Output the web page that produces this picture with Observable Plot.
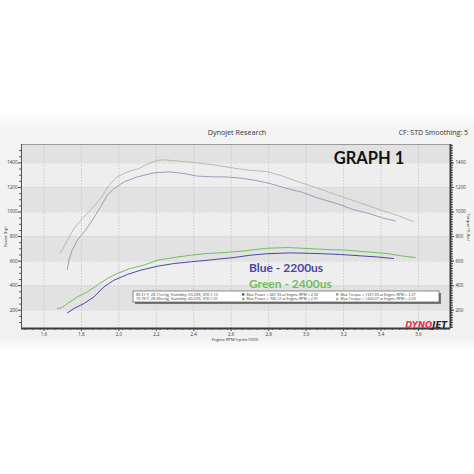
<!DOCTYPE html>
<html>
<head>
<meta charset="utf-8">
<script src="https://cdn.jsdelivr.net/npm/d3@7"></script>
<script src="https://cdn.jsdelivr.net/npm/@observablehq/plot@0.6"></script>
<style>
  html, body { margin: 0; padding: 0; background: #ffffff; }
  #chart { width: 474px; height: 474px; }
</style>
</head>
<body>
<div id="chart"></div>
<script>
// ---- data (rpm x1000, value) ----
const greenTorque = [
  [1.685,667],[1.698,690],[1.725,770],[1.76,866],[1.805,947],[1.849,1015],[1.902,1110],
  [1.947,1218],[1.991,1286],[2.045,1327],[2.107,1354],[2.16,1395],[2.205,1420],[2.235,1426],
  [2.311,1416],[2.42,1400],[2.51,1384],[2.62,1356],[2.70,1340],[2.79,1330],[2.87,1295],
  [2.98,1235],[3.06,1195],[3.166,1137],[3.25,1095],[3.344,1045],[3.42,1005],[3.49,972],[3.575,920]
];
const blueTorque = [
  [1.725,531],[1.733,607],[1.751,689],[1.778,770],[1.822,852],[1.858,933],[1.902,1042],
  [1.938,1137],[1.973,1191],[2.027,1245],[2.098,1286],[2.187,1319],[2.27,1327],[2.347,1314],
  [2.42,1292],[2.50,1287],[2.58,1285],[2.64,1278],[2.72,1260],[2.80,1235],[2.89,1195],
  [2.98,1160],[3.06,1115],[3.166,1068],[3.25,1020],[3.344,985],[3.41,950],[3.476,928]
];
const greenPower = [
  [1.671,214],[1.698,222],[1.725,254],[1.778,308],[1.831,349],[1.885,404],[1.938,458],
  [1.991,499],[2.062,540],[2.133,567],[2.205,607],[2.293,629],[2.382,648],[2.471,662],
  [2.55,668],[2.667,683],[2.79,705],[2.905,710],[3.005,703],[3.111,694],[3.218,689],
  [3.325,675],[3.431,662],[3.52,640],[3.582,629]
];
const bluePower = [
  [1.725,178],[1.76,214],[1.813,254],[1.867,308],[1.92,390],[1.973,444],[2.045,491],
  [2.116,526],[2.205,558],[2.293,580],[2.382,594],[2.471,607],[2.54,618],[2.613,629],
  [2.702,648],[2.79,660],[2.915,667],[3.058,662],[3.182,654],[3.289,643],[3.378,634],[3.467,621]
];
const xTicks = [1.6,1.8,2.0,2.2,2.4,2.6,2.8,3.0,3.2,3.4,3.6];
const yTicks = [200,400,600,800,1000,1200,1400];
const bands = [[200,400],[600,800],[1000,1200],[1400,1600]];
const xDomain = [1.48, 3.771];
const yDomain = [51, 1550];
const envLines = [
  "89.21°F, 28.11in-hg, Humidity: 50.20%, STD:1.10",
  "79.79°F, 28.39in-hg, Humidity: 40.32%, STD:1.07"
];
const powerLines = [
  "Max Power = 667.33 at Engine RPM = 2.92",
  "Max Power = 706.12 at Engine RPM = 2.91"
];
const torqueLines = [
  "Max Torque = 1327.30 at Engine RPM = 2.27",
  "Max Torque = 1426.07 at Engine RPM = 2.23"
];
const runNames = ["Blue - 2200us", "Green - 2400us"];

const colors = {
  greenTorque: "#adb8a6", blueTorque: "#9393b8",
  greenPower: "#6cbf5e", bluePower: "#4848a6"
};

const minorY = d3.range(100, 1550, 50).filter(v => v % 200 !== 0);
const minorX = d3.range(1.50, 3.77, 0.04).map(v => +v.toFixed(2));

const fs = "4.5px";
const plot = Plot.plot({
  width: 474,
  height: 474,
  marginLeft: 21,
  marginRight: 24,
  marginTop: 144,
  marginBottom: 146,
  style: { background: "transparent", fontFamily: "Open Sans, DejaVu Sans, sans-serif", color: "#333" },
  x: { domain: xDomain, axis: null },
  y: { domain: yDomain, axis: null },
  marks: [
    Plot.frame({ fill: "#eeeeee" }),
    Plot.rect(bands, { x1: () => xDomain[0], x2: () => xDomain[1], y1: d => d[0], y2: d => Math.min(d[1], yDomain[1]), fill: "#e2e2e2" }),
    Plot.ruleX(xTicks, { stroke: "#c9c9c9", strokeDasharray: "1.5,1.5" }),
    Plot.ruleY(yTicks, { stroke: "#d4d4d4", strokeDasharray: "1.5,1.5" }),
    Plot.line(greenTorque, { x: d => d[0], y: d => d[1], stroke: colors.greenTorque, strokeWidth: 0.9 }),
    Plot.line(blueTorque, { x: d => d[0], y: d => d[1], stroke: colors.blueTorque, strokeWidth: 0.9 }),
    Plot.line(greenPower, { x: d => d[0], y: d => d[1], stroke: colors.greenPower, strokeWidth: 1 }),
    Plot.line(bluePower, { x: d => d[0], y: d => d[1], stroke: colors.bluePower, strokeWidth: 1 }),
    Plot.frame({ stroke: "#8a8a8a", strokeWidth: 0.8 }),
    Plot.ruleY([yDomain[0]], { stroke: "#3a3a3a", strokeWidth: 2 }),
    Plot.ruleX([xDomain[1]], { stroke: "#3a3a3a", strokeWidth: 2 }),
    Plot.ruleX([xDomain[0]], { stroke: "#555", strokeWidth: 1 }),
    Plot.axisY({ ticks: yTicks, anchor: "left", tickSize: 3, tickPadding: 1, fontSize: fs, label: null, stroke: "#444", tickFormat: d => String(d) }),
    Plot.axisY({ ticks: minorY, anchor: "left", tickSize: 1.8, text: null, label: null, stroke: "#444" }),
    Plot.axisY({ ticks: yTicks, anchor: "right", tickSize: 3, tickPadding: 2, fontSize: fs, label: null, stroke: "#444", tickFormat: d => String(d) }),
    Plot.axisY({ ticks: d3.range(60, 1550, 20), anchor: "right", tickSize: 2, text: null, label: null, stroke: "#444" }),
    Plot.axisX({ ticks: xTicks, anchor: "bottom", tickSize: 3, tickPadding: 1.5, fontSize: fs, label: null, stroke: "#444", tickFormat: d => d.toFixed(1) }),
    Plot.axisX({ ticks: minorX, anchor: "bottom", tickSize: 2, text: null, label: null, stroke: "#444" })
  ]
});

const svg = d3.select(plot);
// panel background (behind everything)
const defs = svg.insert("defs", ":first-child");
const grad = defs.append("linearGradient").attr("id", "panelGrad").attr("x1", 0).attr("y1", 0).attr("x2", 0).attr("y2", 1);
grad.append("stop").attr("offset", "0").attr("stop-color", "#ffffff");
grad.append("stop").attr("offset", "0.08").attr("stop-color", "#f3f3f3");
grad.append("stop").attr("offset", "0.95").attr("stop-color", "#f1f1f1");
grad.append("stop").attr("offset", "1").attr("stop-color", "#ffffff");
svg.insert("rect", "defs + *").attr("x", 0).attr("y", 112).attr("width", 474).attr("height", 238).attr("fill", "url(#panelGrad)");

const ff = "Open Sans, DejaVu Sans, sans-serif";
function txt(x, y, s, opts = {}) {
  const t = svg.append("text").attr("x", x).attr("y", y).text(s)
    .attr("font-family", opts.family || ff)
    .attr("font-size", opts.size || 4.5)
    .attr("fill", opts.fill || "#333")
    .attr("text-anchor", opts.anchor || "start");
  if (opts.weight) t.attr("font-weight", opts.weight);
  if (opts.style) t.attr("font-style", opts.style);
  if (opts.rotate) t.attr("transform", `rotate(${opts.rotate},${x},${y})`);
  return t;
}

txt(237, 135, "Dynojet Research", { size: 7.2, fill: "#333", anchor: "middle" });
txt(468, 135, "CF: STD Smoothing: 5", { size: 7, fill: "#333", anchor: "end" });
txt(369, 164, "GRAPH 1", { size: 16.5, fill: "#111", anchor: "middle", weight: "bold", family: "Lato, Open Sans, sans-serif" });
txt(249, 271.5, runNames[0], { size: 12, fill: colors.bluePower, weight: "bold", family: "Lato, Open Sans, sans-serif" });
txt(249, 287.5, runNames[1], { size: 12, fill: colors.greenPower, weight: "bold", family: "Lato, Open Sans, sans-serif" });

txt(6.5, 237, "Power (hp)", { size: 4.2, anchor: "middle", rotate: -90 });
txt(467, 227, "Torque (ft-lbs)", { size: 4.2, anchor: "middle", rotate: 90 });
txt(235, 341, "Engine RPM (rpmx1000)", { size: 4.2, anchor: "middle" });

// info box
svg.append("rect").attr("x", 135).attr("y", 293).attr("width", 306).attr("height", 11).attr("fill", "#777");
svg.append("rect").attr("x", 133).attr("y", 291).attr("width", 306).attr("height", 11).attr("fill", "#fff").attr("stroke", "#444").attr("stroke-width", 0.6);
const lineY = [295.6, 300.2];
envLines.forEach((s, i) => txt(136, lineY[i], s, { size: 3.7, fill: "#333" }));
const sqColors = [colors.bluePower, colors.greenPower];
const sqTColors = [colors.blueTorque, colors.greenTorque];
powerLines.forEach((s, i) => {
  svg.append("rect").attr("x", 242).attr("y", lineY[i] - 2.4).attr("width", 2.4).attr("height", 2.4).attr("fill", sqColors[i]);
  txt(246.5, lineY[i], s, { size: 3.7, fill: "#333" });
});
torqueLines.forEach((s, i) => {
  svg.append("rect").attr("x", 336).attr("y", lineY[i] - 2.4).attr("width", 2.4).attr("height", 2.4).attr("fill", sqTColors[i]);
  txt(340.5, lineY[i], s, { size: 3.7, fill: "#333" });
});

// logo
const logo = svg.append("text").attr("x", 447).attr("y", 327.5).attr("text-anchor", "end")
  .attr("font-family", "DejaVu Sans, sans-serif").attr("font-size", 8.5).attr("font-weight", "bold").attr("font-style", "italic");
logo.append("tspan").attr("fill", "#e8334a").text("DYNO");
logo.append("tspan").attr("fill", "#222").text("JET");

document.getElementById("chart").appendChild(plot);
</script>
</body>
</html>
